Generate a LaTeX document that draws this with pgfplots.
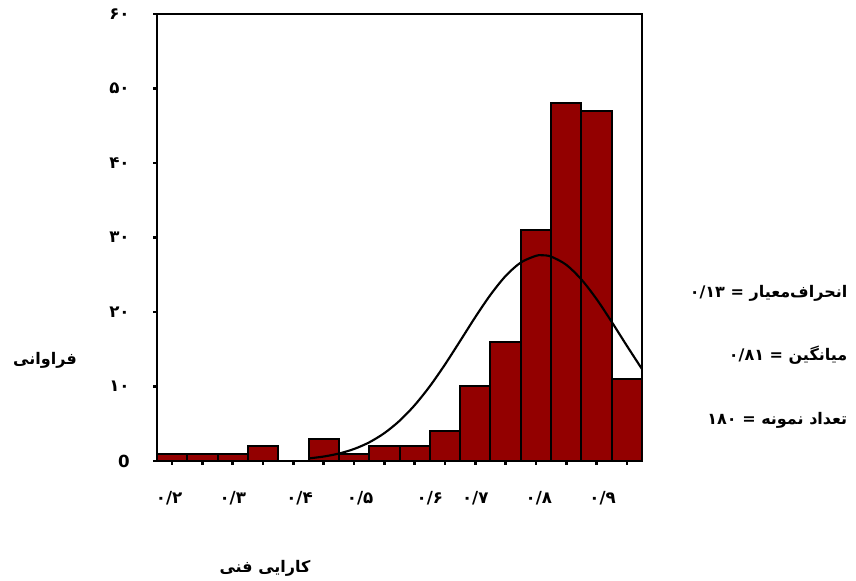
\documentclass[border=0pt]{standalone}
\usepackage{fontspec}
\usepackage{pgfplots}
\pgfplotsset{compat=1.18}
\TeXXeTstate=1
\newfontfamily\arabicfont[Script=Arabic]{DejaVu Sans}
\definecolor{barred}{RGB}{147,0,0}
\newcommand\pf{\arabicfont\bfseries\fontsize{12}{13}\selectfont}
\newcommand\pt{\arabicfont\bfseries\fontsize{12.5}{13}\selectfont}
\begin{document}
\begin{tikzpicture}[x=1pt,y=1pt]
\useasboundingbox (-117.75,-90) rectangle (524.25,345.75);
\begin{axis}[
  at={(0,0)}, anchor=south west,
  scale only axis, width=363.75pt, height=335.25pt,
  xmin=0.175, xmax=0.975, ymin=0, ymax=60,
  axis line style={line width=1.6pt},
  xtick pos=bottom, ytick pos=left,
  tick align=outside, major tick length=3pt,
  tick style={black, line width=2pt},
  xtick={0.2,0.25,0.3,0.35,0.4,0.45,0.5,0.55,0.6,0.65,0.7,0.75,0.8,0.85,0.9,0.95},
  xticklabels={},
  extra x ticks={0.195,0.30,0.41,0.51,0.625,0.70,0.805,0.91},
  extra x tick labels={{\pt ۰/۲},{\pt ۰/۳},{\pt ۰/۴},{\pt ۰/۵},{\pt ۰/۶},{\pt ۰/۷},{\pt ۰/۸},{\pt ۰/۹}},
  extra x tick style={major tick length=0pt, xticklabel style={yshift=-19pt}},
  ytick={0,10,20,30,40,50,60},
  yticklabels={{\pt 0},{\pt ۱۰},{\pt ۲۰},{\pt ۳۰},{\pt ۴۰},{\pt ۵۰},{\pt ۶۰}},
  yticklabel style={xshift=-14pt},
]
\addplot[ybar interval, fill=barred, draw=black, line width=1.5pt] coordinates {
(0.175,1)(0.225,1)(0.275,1)(0.325,2)(0.375,0)(0.425,3)(0.475,1)(0.525,2)
(0.575,2)(0.625,4)(0.675,10)(0.725,16)(0.775,31)(0.825,48)(0.875,47)(0.925,11)(0.975,11)};
\addplot[black, line width=1.6pt, smooth, no marks] coordinates {
(0.425,0.34)(0.45,0.60)(0.475,1.00)(0.5,1.61)(0.525,2.50)(0.55,3.74)(0.575,5.39)
(0.6,7.49)(0.625,10.03)(0.65,12.95)(0.675,16.11)(0.7,19.31)(0.725,22.30)(0.75,24.83)
(0.775,26.64)(0.8,27.54)(0.81,27.62)(0.825,27.44)(0.85,26.34)(0.875,24.37)(0.9,21.74)
(0.925,18.68)(0.95,15.47)(0.975,12.34)};
\end{axis}
\node[font=\pf] at (-84,75.75) {\beginR فراوانی\endR};
\node[font=\pf] at (81,-80.25) {\beginR کارایی فنی\endR};
\node[font=\pf, anchor=east] at (521.25,126) {\beginR انحراف‌معیار = \beginL ۰/۱۳\endL{}\endR};
\node[font=\pf, anchor=east] at (521.25,79.5) {\beginR میانگین = \beginL ۰/۸۱\endL{}\endR};
\node[font=\pf, anchor=east] at (521.25,30.75) {\beginR تعداد نمونه = \beginL ۱۸۰\endL{}\endR};
\end{tikzpicture}
\end{document}
